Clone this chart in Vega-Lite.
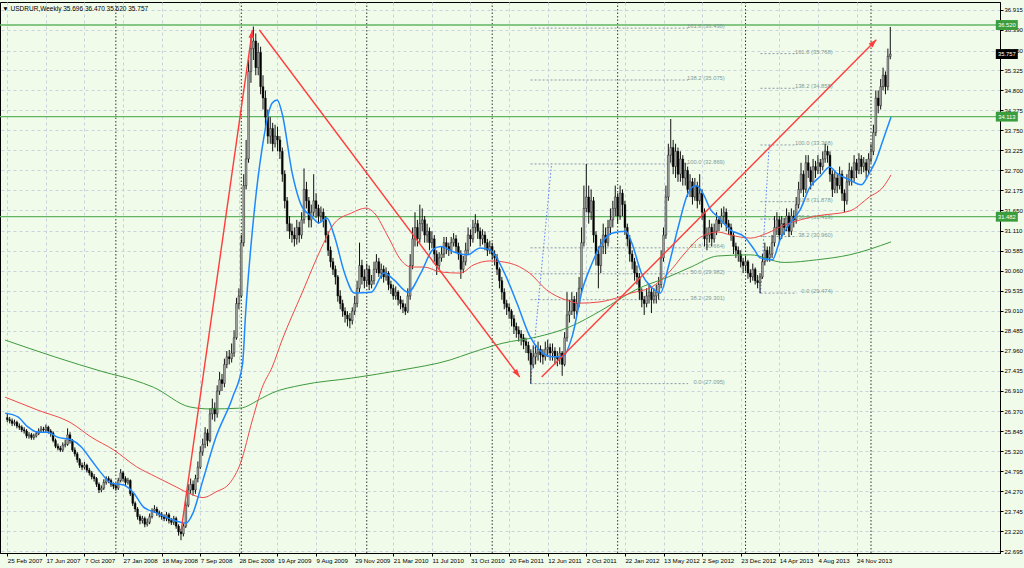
{
"$schema":"https://vega.github.io/schema/vega-lite/v6.json",
"width":1000,"height":551,"autosize":{"type":"none"},
"padding":{"left":0,"top":2,"right":24,"bottom":15},
"background":"#f0fbea",
"config":{"view":{"stroke":"#000","strokeWidth":1,"fill":"#f0fbea"},
"axis":{"labelFont":"Liberation Sans","labelFontSize":5.8,"labelColor":"#000","tickColor":"#000","tickSize":3,"domainColor":"#000","gridColor":"#c9d3de","gridDash":[3,3],"gridWidth":1,"labelOverlap":false,"labelBound":false,"labelFlush":false,"labelSeparation":0},
"title":{"font":"Liberation Sans","fontSize":6.5,"fontWeight":"normal","color":"#000","anchor":"start","offset":-11,"dx":3}},
"title":{"text":"▼ USDRUR,Weekly  35.696 36.470 35.620 35.757"},
"datasets":{
"c":[
{"i":0,"o":26.2,"h":26.3,"l":26.08,"c":26.15},{"i":1,"o":26.15,"h":26.22,"l":26.05,"c":26.12},{"i":2,"o":26.12,"h":26.18,"l":25.98,"c":26.05},{"i":3,"o":26.05,"h":26.15,"l":25.99,"c":26.08},{"i":4,"o":26.08,"h":26.12,"l":25.92,"c":25.98},{"i":5,"o":25.98,"h":26.05,"l":25.88,"c":25.95},{"i":6,"o":25.95,"h":26.0,"l":25.82,"c":25.88},{"i":7,"o":25.88,"h":25.95,"l":25.78,"c":25.85},{"i":8,"o":25.85,"h":25.9,"l":25.66,"c":25.72},{"i":9,"o":25.72,"h":25.82,"l":25.65,"c":25.75},
{"i":10,"o":25.75,"h":25.8,"l":25.62,"c":25.68},{"i":11,"o":25.68,"h":25.78,"l":25.62,"c":25.72},{"i":12,"o":25.72,"h":25.85,"l":25.68,"c":25.78},{"i":13,"o":25.78,"h":25.92,"l":25.74,"c":25.85},{"i":14,"o":25.85,"h":25.98,"l":25.8,"c":25.9},{"i":15,"o":25.9,"h":25.96,"l":25.8,"c":25.88},{"i":16,"o":25.88,"h":26.02,"l":25.82,"c":25.95},{"i":17,"o":25.95,"h":25.99,"l":25.78,"c":25.85},{"i":18,"o":25.85,"h":25.9,"l":25.7,"c":25.8},{"i":19,"o":25.8,"h":25.84,"l":25.55,"c":25.6},
{"i":20,"o":25.6,"h":25.65,"l":25.4,"c":25.45},{"i":21,"o":25.45,"h":25.52,"l":25.34,"c":25.4},{"i":22,"o":25.4,"h":25.46,"l":25.3,"c":25.35},{"i":23,"o":25.35,"h":25.55,"l":25.3,"c":25.48},{"i":24,"o":25.48,"h":25.62,"l":25.42,"c":25.5},{"i":25,"o":25.5,"h":25.92,"l":25.46,"c":25.75},{"i":26,"o":25.75,"h":25.82,"l":25.52,"c":25.6},{"i":27,"o":25.6,"h":25.64,"l":25.3,"c":25.35},{"i":28,"o":25.35,"h":25.42,"l":25.18,"c":25.25},{"i":29,"o":25.25,"h":25.3,"l":25.02,"c":25.1},
{"i":30,"o":25.1,"h":25.14,"l":24.88,"c":24.95},{"i":31,"o":24.95,"h":25.02,"l":24.82,"c":24.9},{"i":32,"o":24.9,"h":25.04,"l":24.84,"c":24.95},{"i":33,"o":24.95,"h":24.99,"l":24.76,"c":24.82},{"i":34,"o":24.82,"h":24.88,"l":24.68,"c":24.75},{"i":35,"o":24.75,"h":24.8,"l":24.58,"c":24.65},{"i":36,"o":24.65,"h":24.72,"l":24.52,"c":24.6},{"i":37,"o":24.6,"h":24.64,"l":24.38,"c":24.45},{"i":38,"o":24.45,"h":24.5,"l":24.22,"c":24.3},{"i":39,"o":24.3,"h":24.42,"l":24.24,"c":24.35},
{"i":40,"o":24.35,"h":24.58,"l":24.3,"c":24.5},{"i":41,"o":24.5,"h":24.66,"l":24.44,"c":24.6},{"i":42,"o":24.6,"h":24.66,"l":24.48,"c":24.55},{"i":43,"o":24.55,"h":24.6,"l":24.38,"c":24.45},{"i":44,"o":24.45,"h":24.5,"l":24.32,"c":24.4},{"i":45,"o":24.4,"h":24.46,"l":24.28,"c":24.35},{"i":46,"o":24.35,"h":24.62,"l":24.3,"c":24.55},{"i":47,"o":24.55,"h":24.85,"l":24.5,"c":24.75},{"i":48,"o":24.75,"h":24.8,"l":24.52,"c":24.6},{"i":49,"o":24.6,"h":24.66,"l":24.42,"c":24.5},
{"i":50,"o":24.5,"h":24.62,"l":24.44,"c":24.55},{"i":51,"o":24.55,"h":24.58,"l":24.14,"c":24.2},{"i":52,"o":24.2,"h":24.25,"l":23.88,"c":23.95},{"i":53,"o":23.95,"h":24.0,"l":23.72,"c":23.8},{"i":54,"o":23.8,"h":23.85,"l":23.52,"c":23.6},{"i":55,"o":23.6,"h":23.66,"l":23.4,"c":23.5},{"i":56,"o":23.5,"h":23.62,"l":23.42,"c":23.55},{"i":57,"o":23.55,"h":23.6,"l":23.32,"c":23.4},{"i":58,"o":23.4,"h":23.55,"l":23.34,"c":23.45},{"i":59,"o":23.45,"h":23.68,"l":23.4,"c":23.6},
{"i":60,"o":23.6,"h":23.82,"l":23.55,"c":23.75},{"i":61,"o":23.75,"h":23.9,"l":23.7,"c":23.8},{"i":62,"o":23.8,"h":23.86,"l":23.62,"c":23.7},{"i":63,"o":23.7,"h":23.76,"l":23.58,"c":23.65},{"i":64,"o":23.65,"h":23.72,"l":23.52,"c":23.6},{"i":65,"o":23.6,"h":23.66,"l":23.48,"c":23.55},{"i":66,"o":23.55,"h":23.72,"l":23.48,"c":23.65},{"i":67,"o":23.65,"h":23.7,"l":23.42,"c":23.5},{"i":68,"o":23.5,"h":23.56,"l":23.38,"c":23.45},{"i":69,"o":23.45,"h":23.62,"l":23.38,"c":23.55},
{"i":70,"o":23.55,"h":23.6,"l":23.28,"c":23.35},{"i":71,"o":23.35,"h":23.4,"l":23.1,"c":23.2},{"i":72,"o":23.2,"h":23.28,"l":22.98,"c":23.15},{"i":73,"o":23.15,"h":23.42,"l":23.08,"c":23.35},{"i":74,"o":23.35,"h":24.0,"l":23.3,"c":23.9},{"i":75,"o":23.9,"h":24.45,"l":23.85,"c":24.3},{"i":76,"o":24.3,"h":24.6,"l":24.2,"c":24.45},{"i":77,"o":24.45,"h":24.55,"l":24.15,"c":24.3},{"i":78,"o":24.3,"h":24.7,"l":24.2,"c":24.6},{"i":79,"o":24.6,"h":25.05,"l":24.5,"c":24.9},
{"i":80,"o":24.9,"h":25.45,"l":24.85,"c":25.3},{"i":81,"o":25.3,"h":25.65,"l":25.2,"c":25.5},{"i":82,"o":25.5,"h":25.95,"l":25.4,"c":25.8},{"i":83,"o":25.8,"h":25.9,"l":25.45,"c":25.6},{"i":84,"o":25.6,"h":26.45,"l":25.55,"c":26.3},{"i":85,"o":26.3,"h":26.7,"l":26.15,"c":26.45},{"i":86,"o":26.45,"h":26.6,"l":26.1,"c":26.3},{"i":87,"o":26.3,"h":27.05,"l":26.2,"c":26.9},{"i":88,"o":26.9,"h":27.4,"l":26.8,"c":27.2},{"i":89,"o":27.2,"h":27.35,"l":26.9,"c":27.1},
{"i":90,"o":27.1,"h":27.75,"l":27.0,"c":27.6},{"i":91,"o":27.6,"h":27.95,"l":27.5,"c":27.8},{"i":92,"o":27.8,"h":27.98,"l":27.6,"c":27.75},{"i":93,"o":27.75,"h":28.15,"l":27.65,"c":27.9},{"i":94,"o":27.9,"h":28.5,"l":27.8,"c":28.3},{"i":95,"o":28.3,"h":29.35,"l":28.25,"c":29.2},{"i":96,"o":29.2,"h":29.6,"l":29.05,"c":29.4},{"i":97,"o":29.4,"h":31.0,"l":29.35,"c":30.8},{"i":98,"o":30.8,"h":32.6,"l":30.7,"c":32.3},{"i":99,"o":32.3,"h":33.5,"l":32.2,"c":33.0},
{"i":100,"o":33.0,"h":35.6,"l":32.9,"c":35.3},{"i":101,"o":35.3,"h":36.2,"l":35.0,"c":35.9},{"i":102,"o":35.9,"h":36.48,"l":35.6,"c":36.1},{"i":103,"o":36.1,"h":36.3,"l":35.2,"c":35.4},{"i":104,"o":35.4,"h":36.05,"l":35.2,"c":35.8},{"i":105,"o":35.8,"h":35.95,"l":34.7,"c":34.9},{"i":106,"o":34.9,"h":35.2,"l":34.3,"c":34.6},{"i":107,"o":34.6,"h":34.8,"l":33.8,"c":34.1},{"i":108,"o":34.1,"h":34.3,"l":33.4,"c":33.6},{"i":109,"o":33.6,"h":34.1,"l":33.4,"c":33.8},
{"i":110,"o":33.8,"h":33.95,"l":33.2,"c":33.4},{"i":111,"o":33.4,"h":33.9,"l":33.3,"c":33.6},{"i":112,"o":33.6,"h":33.85,"l":33.2,"c":33.5},{"i":113,"o":33.5,"h":33.6,"l":33.0,"c":33.2},{"i":114,"o":33.2,"h":33.3,"l":32.4,"c":32.6},{"i":115,"o":32.6,"h":32.7,"l":31.7,"c":31.9},{"i":116,"o":31.9,"h":32.0,"l":31.1,"c":31.3},{"i":117,"o":31.3,"h":31.5,"l":30.9,"c":31.1},{"i":118,"o":31.1,"h":31.3,"l":30.8,"c":31.0},{"i":119,"o":31.0,"h":31.2,"l":30.7,"c":30.9},
{"i":120,"o":30.9,"h":31.4,"l":30.75,"c":31.2},{"i":121,"o":31.2,"h":31.35,"l":30.8,"c":31.0},{"i":122,"o":31.0,"h":31.6,"l":30.9,"c":31.4},{"i":123,"o":31.4,"h":32.75,"l":31.3,"c":32.2},{"i":124,"o":32.2,"h":32.4,"l":31.7,"c":31.9},{"i":125,"o":31.9,"h":32.0,"l":31.2,"c":31.4},{"i":126,"o":31.4,"h":31.8,"l":31.2,"c":31.6},{"i":127,"o":31.6,"h":32.6,"l":31.5,"c":31.9},{"i":128,"o":31.9,"h":32.1,"l":31.45,"c":31.7},{"i":129,"o":31.7,"h":31.8,"l":31.3,"c":31.5},
{"i":130,"o":31.5,"h":31.75,"l":31.35,"c":31.6},{"i":131,"o":31.6,"h":31.7,"l":31.2,"c":31.4},{"i":132,"o":31.4,"h":31.5,"l":30.8,"c":31.0},{"i":133,"o":31.0,"h":31.1,"l":30.45,"c":30.6},{"i":134,"o":30.6,"h":30.7,"l":30.15,"c":30.3},{"i":135,"o":30.3,"h":30.4,"l":29.95,"c":30.1},{"i":136,"o":30.1,"h":30.2,"l":29.7,"c":29.9},{"i":137,"o":29.9,"h":29.95,"l":29.25,"c":29.4},{"i":138,"o":29.4,"h":29.55,"l":29.05,"c":29.2},{"i":139,"o":29.2,"h":29.3,"l":28.85,"c":29.0},
{"i":140,"o":29.0,"h":29.1,"l":28.7,"c":28.9},{"i":141,"o":28.9,"h":29.0,"l":28.6,"c":28.8},{"i":142,"o":28.8,"h":28.95,"l":28.55,"c":28.75},{"i":143,"o":28.75,"h":29.1,"l":28.65,"c":29.0},{"i":144,"o":29.0,"h":29.4,"l":28.9,"c":29.2},{"i":145,"o":29.2,"h":29.8,"l":29.1,"c":29.6},{"i":146,"o":29.6,"h":30.8,"l":29.5,"c":30.2},{"i":147,"o":30.2,"h":30.35,"l":29.7,"c":29.9},{"i":148,"o":29.9,"h":30.1,"l":29.6,"c":29.8},{"i":149,"o":29.8,"h":30.25,"l":29.65,"c":30.1},
{"i":150,"o":30.1,"h":30.2,"l":29.55,"c":29.7},{"i":151,"o":29.7,"h":29.95,"l":29.6,"c":29.8},{"i":152,"o":29.8,"h":30.3,"l":29.7,"c":30.1},{"i":153,"o":30.1,"h":30.5,"l":30.0,"c":30.3},{"i":154,"o":30.3,"h":30.4,"l":29.9,"c":30.0},{"i":155,"o":30.0,"h":30.25,"l":29.85,"c":30.1},{"i":156,"o":30.1,"h":30.2,"l":29.75,"c":29.9},{"i":157,"o":29.9,"h":30.15,"l":29.8,"c":30.0},{"i":158,"o":30.0,"h":30.05,"l":29.55,"c":29.7},{"i":159,"o":29.7,"h":29.8,"l":29.45,"c":29.6},
{"i":160,"o":29.6,"h":29.7,"l":29.3,"c":29.4},{"i":161,"o":29.4,"h":29.65,"l":29.3,"c":29.5},{"i":162,"o":29.5,"h":29.55,"l":29.15,"c":29.3},{"i":163,"o":29.3,"h":29.4,"l":29.05,"c":29.2},{"i":164,"o":29.2,"h":29.3,"l":28.95,"c":29.1},{"i":165,"o":29.1,"h":29.2,"l":28.9,"c":29.0},{"i":166,"o":29.0,"h":29.6,"l":28.95,"c":29.4},{"i":167,"o":29.4,"h":30.5,"l":29.3,"c":30.2},{"i":168,"o":30.2,"h":31.2,"l":30.1,"c":30.9},{"i":169,"o":30.9,"h":31.6,"l":30.7,"c":31.2},
{"i":170,"o":31.2,"h":31.4,"l":30.7,"c":30.9},{"i":171,"o":30.9,"h":31.8,"l":30.8,"c":31.3},{"i":172,"o":31.3,"h":31.7,"l":31.1,"c":31.4},{"i":173,"o":31.4,"h":31.5,"l":30.8,"c":31.0},{"i":174,"o":31.0,"h":31.3,"l":30.8,"c":31.1},{"i":175,"o":31.1,"h":31.2,"l":30.6,"c":30.8},{"i":176,"o":30.8,"h":31.1,"l":30.65,"c":30.9},{"i":177,"o":30.9,"h":31.0,"l":30.3,"c":30.5},{"i":178,"o":30.5,"h":30.6,"l":29.95,"c":30.2},{"i":179,"o":30.2,"h":30.55,"l":30.1,"c":30.4},
{"i":180,"o":30.4,"h":30.7,"l":30.3,"c":30.5},{"i":181,"o":30.5,"h":30.95,"l":30.4,"c":30.8},{"i":182,"o":30.8,"h":30.95,"l":30.5,"c":30.7},{"i":183,"o":30.7,"h":30.8,"l":30.45,"c":30.6},{"i":184,"o":30.6,"h":30.95,"l":30.5,"c":30.8},{"i":185,"o":30.8,"h":31.05,"l":30.7,"c":30.9},{"i":186,"o":30.9,"h":31.0,"l":30.55,"c":30.7},{"i":187,"o":30.7,"h":30.8,"l":30.35,"c":30.5},{"i":188,"o":30.5,"h":30.6,"l":29.85,"c":30.1},{"i":189,"o":30.1,"h":30.45,"l":30.0,"c":30.3},
{"i":190,"o":30.3,"h":30.8,"l":30.2,"c":30.6},{"i":191,"o":30.6,"h":31.2,"l":30.5,"c":31.0},{"i":192,"o":31.0,"h":31.15,"l":30.7,"c":30.9},{"i":193,"o":30.9,"h":31.4,"l":30.8,"c":31.2},{"i":194,"o":31.2,"h":31.55,"l":31.05,"c":31.3},{"i":195,"o":31.3,"h":31.4,"l":30.9,"c":31.1},{"i":196,"o":31.1,"h":31.2,"l":30.7,"c":30.9},{"i":197,"o":30.9,"h":31.15,"l":30.75,"c":31.0},{"i":198,"o":31.0,"h":31.1,"l":30.6,"c":30.8},{"i":199,"o":30.8,"h":30.9,"l":30.45,"c":30.6},
{"i":200,"o":30.6,"h":30.85,"l":30.5,"c":30.7},{"i":201,"o":30.7,"h":30.8,"l":30.35,"c":30.5},{"i":202,"o":30.5,"h":30.6,"l":30.2,"c":30.4},{"i":203,"o":30.4,"h":30.5,"l":29.95,"c":30.1},{"i":204,"o":30.1,"h":30.15,"l":29.6,"c":29.8},{"i":205,"o":29.8,"h":29.9,"l":29.3,"c":29.5},{"i":206,"o":29.5,"h":29.6,"l":29.05,"c":29.2},{"i":207,"o":29.2,"h":29.3,"l":28.9,"c":29.1},{"i":208,"o":29.1,"h":29.2,"l":28.8,"c":29.0},{"i":209,"o":29.0,"h":29.05,"l":28.6,"c":28.8},
{"i":210,"o":28.8,"h":28.9,"l":28.4,"c":28.6},{"i":211,"o":28.6,"h":28.7,"l":28.3,"c":28.5},{"i":212,"o":28.5,"h":28.6,"l":28.2,"c":28.4},{"i":213,"o":28.4,"h":28.5,"l":28.1,"c":28.3},{"i":214,"o":28.3,"h":28.4,"l":28.0,"c":28.2},{"i":215,"o":28.2,"h":28.3,"l":27.9,"c":28.1},{"i":216,"o":28.1,"h":28.2,"l":27.7,"c":27.9},{"i":217,"o":27.9,"h":28.0,"l":27.1,"c":27.6},{"i":218,"o":27.6,"h":28.1,"l":27.5,"c":27.8},{"i":219,"o":27.8,"h":28.1,"l":27.6,"c":27.9},
{"i":220,"o":27.9,"h":28.2,"l":27.7,"c":28.0},{"i":221,"o":28.0,"h":28.1,"l":27.65,"c":27.85},{"i":222,"o":27.85,"h":28.0,"l":27.6,"c":27.8},{"i":223,"o":27.8,"h":28.2,"l":27.7,"c":28.0},{"i":224,"o":28.0,"h":28.25,"l":27.8,"c":28.05},{"i":225,"o":28.05,"h":28.15,"l":27.7,"c":27.9},{"i":226,"o":27.9,"h":28.15,"l":27.7,"c":27.95},{"i":227,"o":27.95,"h":28.05,"l":27.6,"c":27.8},{"i":228,"o":27.8,"h":27.95,"l":27.55,"c":27.75},{"i":229,"o":27.75,"h":28.05,"l":27.6,"c":27.9},
{"i":230,"o":27.9,"h":27.95,"l":27.3,"c":27.6},{"i":231,"o":27.6,"h":28.45,"l":27.55,"c":28.3},{"i":232,"o":28.3,"h":29.5,"l":28.2,"c":28.9},{"i":233,"o":28.9,"h":29.3,"l":28.7,"c":29.0},{"i":234,"o":29.0,"h":29.5,"l":28.9,"c":29.3},{"i":235,"o":29.3,"h":29.4,"l":28.8,"c":29.0},{"i":236,"o":29.0,"h":29.5,"l":28.9,"c":29.2},{"i":237,"o":29.2,"h":29.9,"l":29.1,"c":29.6},{"i":238,"o":29.6,"h":31.2,"l":29.5,"c":30.8},{"i":239,"o":30.8,"h":32.3,"l":30.7,"c":31.7},
{"i":240,"o":31.7,"h":32.87,"l":31.6,"c":32.0},{"i":241,"o":32.0,"h":32.3,"l":31.3,"c":31.6},{"i":242,"o":31.6,"h":32.2,"l":31.4,"c":31.9},{"i":243,"o":31.9,"h":32.0,"l":30.8,"c":31.0},{"i":244,"o":31.0,"h":31.1,"l":30.2,"c":30.5},{"i":245,"o":30.5,"h":30.7,"l":29.6,"c":30.2},{"i":246,"o":30.2,"h":30.9,"l":30.0,"c":30.7},{"i":247,"o":30.7,"h":31.3,"l":30.5,"c":31.0},{"i":248,"o":31.0,"h":31.2,"l":30.5,"c":30.8},{"i":249,"o":30.8,"h":31.4,"l":30.7,"c":31.2},
{"i":250,"o":31.2,"h":31.7,"l":31.0,"c":31.4},{"i":251,"o":31.4,"h":31.9,"l":31.2,"c":31.7},{"i":252,"o":31.7,"h":32.3,"l":31.5,"c":32.0},{"i":253,"o":32.0,"h":32.1,"l":31.3,"c":31.5},{"i":254,"o":31.5,"h":32.3,"l":31.4,"c":32.1},{"i":255,"o":32.1,"h":32.2,"l":31.5,"c":31.8},{"i":256,"o":31.8,"h":31.9,"l":31.0,"c":31.2},{"i":257,"o":31.2,"h":31.3,"l":30.7,"c":30.9},{"i":258,"o":30.9,"h":31.0,"l":30.3,"c":30.5},{"i":259,"o":30.5,"h":30.6,"l":30.1,"c":30.3},
{"i":260,"o":30.3,"h":30.4,"l":29.8,"c":30.0},{"i":261,"o":30.0,"h":30.2,"l":29.7,"c":29.9},{"i":262,"o":29.9,"h":30.0,"l":29.3,"c":29.5},{"i":263,"o":29.5,"h":29.6,"l":29.1,"c":29.3},{"i":264,"o":29.3,"h":29.4,"l":28.9,"c":29.2},{"i":265,"o":29.2,"h":29.6,"l":29.1,"c":29.4},{"i":266,"o":29.4,"h":29.7,"l":29.2,"c":29.5},{"i":267,"o":29.5,"h":29.6,"l":28.95,"c":29.3},{"i":268,"o":29.3,"h":29.6,"l":29.2,"c":29.4},{"i":269,"o":29.4,"h":29.7,"l":29.2,"c":29.5},
{"i":270,"o":29.5,"h":29.9,"l":29.3,"c":29.7},{"i":271,"o":29.7,"h":30.6,"l":29.6,"c":30.4},{"i":272,"o":30.4,"h":31.2,"l":30.3,"c":31.0},{"i":273,"o":31.0,"h":32.3,"l":30.9,"c":32.0},{"i":274,"o":32.0,"h":33.4,"l":31.9,"c":33.1},{"i":275,"o":33.1,"h":34.05,"l":32.9,"c":33.3},{"i":276,"o":33.3,"h":33.5,"l":32.6,"c":32.8},{"i":277,"o":32.8,"h":33.4,"l":32.5,"c":33.2},{"i":278,"o":33.2,"h":33.3,"l":32.4,"c":32.6},{"i":279,"o":32.6,"h":33.2,"l":32.4,"c":33.0},
{"i":280,"o":33.0,"h":33.1,"l":32.3,"c":32.5},{"i":281,"o":32.5,"h":32.9,"l":32.3,"c":32.7},{"i":282,"o":32.7,"h":32.8,"l":32.0,"c":32.2},{"i":283,"o":32.2,"h":32.6,"l":32.0,"c":32.4},{"i":284,"o":32.4,"h":32.5,"l":31.8,"c":32.0},{"i":285,"o":32.0,"h":32.5,"l":31.9,"c":32.3},{"i":286,"o":32.3,"h":32.4,"l":31.7,"c":31.9},{"i":287,"o":31.9,"h":32.6,"l":31.8,"c":32.1},{"i":288,"o":32.1,"h":32.2,"l":31.4,"c":31.6},{"i":289,"o":31.6,"h":31.7,"l":30.7,"c":30.9},
{"i":290,"o":30.9,"h":31.2,"l":30.6,"c":31.0},{"i":291,"o":31.0,"h":31.4,"l":30.8,"c":31.2},{"i":292,"o":31.2,"h":31.3,"l":30.7,"c":30.9},{"i":293,"o":30.9,"h":31.3,"l":30.8,"c":31.1},{"i":294,"o":31.1,"h":31.6,"l":31.0,"c":31.4},{"i":295,"o":31.4,"h":31.5,"l":31.1,"c":31.3},{"i":296,"o":31.3,"h":31.7,"l":31.2,"c":31.5},{"i":297,"o":31.5,"h":31.75,"l":31.3,"c":31.6},{"i":298,"o":31.6,"h":31.7,"l":31.1,"c":31.3},{"i":299,"o":31.3,"h":31.4,"l":31.0,"c":31.2},
{"i":300,"o":31.2,"h":31.3,"l":30.85,"c":31.0},{"i":301,"o":31.0,"h":31.1,"l":30.5,"c":30.7},{"i":302,"o":30.7,"h":30.8,"l":30.4,"c":30.6},{"i":303,"o":30.6,"h":30.7,"l":30.3,"c":30.5},{"i":304,"o":30.5,"h":30.6,"l":30.15,"c":30.3},{"i":305,"o":30.3,"h":30.4,"l":30.0,"c":30.2},{"i":306,"o":30.2,"h":30.45,"l":30.05,"c":30.3},{"i":307,"o":30.3,"h":30.35,"l":29.85,"c":30.0},{"i":308,"o":30.0,"h":30.1,"l":29.75,"c":29.9},{"i":309,"o":29.9,"h":30.25,"l":29.8,"c":30.1},
{"i":310,"o":30.1,"h":30.15,"l":29.7,"c":29.8},{"i":311,"o":29.8,"h":29.95,"l":29.6,"c":29.75},{"i":312,"o":29.75,"h":30.0,"l":29.47,"c":29.9},{"i":313,"o":29.9,"h":30.5,"l":29.85,"c":30.3},{"i":314,"o":30.3,"h":30.8,"l":30.2,"c":30.6},{"i":315,"o":30.6,"h":30.7,"l":30.3,"c":30.4},{"i":316,"o":30.4,"h":30.7,"l":30.3,"c":30.5},{"i":317,"o":30.5,"h":31.0,"l":30.4,"c":30.8},{"i":318,"o":30.8,"h":31.5,"l":30.7,"c":31.2},{"i":319,"o":31.2,"h":31.6,"l":31.0,"c":31.4},
{"i":320,"o":31.4,"h":31.5,"l":30.8,"c":31.0},{"i":321,"o":31.0,"h":31.5,"l":30.9,"c":31.3},{"i":322,"o":31.3,"h":31.45,"l":31.0,"c":31.2},{"i":323,"o":31.2,"h":31.7,"l":31.1,"c":31.5},{"i":324,"o":31.5,"h":31.6,"l":30.95,"c":31.1},{"i":325,"o":31.1,"h":31.7,"l":31.0,"c":31.5},{"i":326,"o":31.5,"h":31.65,"l":31.2,"c":31.4},{"i":327,"o":31.4,"h":32.0,"l":31.3,"c":31.8},{"i":328,"o":31.8,"h":32.4,"l":31.7,"c":32.2},{"i":329,"o":32.2,"h":32.9,"l":32.1,"c":32.6},
{"i":330,"o":32.6,"h":32.7,"l":32.0,"c":32.2},{"i":331,"o":32.2,"h":33.1,"l":32.1,"c":32.9},{"i":332,"o":32.9,"h":33.1,"l":32.5,"c":32.7},{"i":333,"o":32.7,"h":32.8,"l":32.2,"c":32.4},{"i":334,"o":32.4,"h":33.0,"l":32.3,"c":32.8},{"i":335,"o":32.8,"h":32.95,"l":32.5,"c":32.7},{"i":336,"o":32.7,"h":33.1,"l":32.6,"c":32.9},{"i":337,"o":32.9,"h":33.0,"l":32.6,"c":32.8},{"i":338,"o":32.8,"h":33.2,"l":32.7,"c":33.0},{"i":339,"o":33.0,"h":33.4,"l":32.9,"c":33.2},
{"i":340,"o":33.2,"h":33.35,"l":32.9,"c":33.1},{"i":341,"o":33.1,"h":33.2,"l":32.4,"c":32.6},{"i":342,"o":32.6,"h":32.7,"l":32.0,"c":32.2},{"i":343,"o":32.2,"h":32.7,"l":32.1,"c":32.5},{"i":344,"o":32.5,"h":32.6,"l":32.1,"c":32.3},{"i":345,"o":32.3,"h":32.8,"l":32.2,"c":32.6},{"i":346,"o":32.6,"h":32.7,"l":31.9,"c":32.1},{"i":347,"o":32.1,"h":32.2,"l":31.6,"c":31.9},{"i":348,"o":31.9,"h":32.6,"l":31.8,"c":32.4},{"i":349,"o":32.4,"h":32.9,"l":32.3,"c":32.7},
{"i":350,"o":32.7,"h":32.8,"l":32.3,"c":32.5},{"i":351,"o":32.5,"h":33.1,"l":32.4,"c":32.9},{"i":352,"o":32.9,"h":33.0,"l":32.5,"c":32.7},{"i":353,"o":32.7,"h":33.15,"l":32.6,"c":33.0},{"i":354,"o":33.0,"h":33.1,"l":32.6,"c":32.8},{"i":355,"o":32.8,"h":33.05,"l":32.65,"c":32.9},{"i":356,"o":32.9,"h":33.0,"l":32.5,"c":32.7},{"i":357,"o":32.7,"h":33.15,"l":32.6,"c":33.0},{"i":358,"o":33.0,"h":33.4,"l":32.9,"c":33.2},{"i":359,"o":33.2,"h":33.9,"l":33.1,"c":33.7},
{"i":360,"o":33.7,"h":34.8,"l":33.6,"c":34.6},{"i":361,"o":34.6,"h":34.8,"l":34.2,"c":34.4},{"i":362,"o":34.4,"h":35.1,"l":34.3,"c":34.9},{"i":363,"o":34.9,"h":35.4,"l":34.8,"c":35.2},{"i":364,"o":35.2,"h":35.3,"l":34.7,"c":34.9},{"i":365,"o":34.9,"h":35.9,"l":34.8,"c":35.696},{"i":366,"o":35.696,"h":36.47,"l":35.62,"c":35.757}
],
"blue":[{"i":-0.9,"v":26.32},{"i":4.4,"v":26.22},{"i":8.5,"v":25.96},{"i":12.6,"v":25.82},{"i":16.7,"v":25.82},{"i":20.8,"v":25.69},{"i":26.5,"v":25.62},{"i":30.7,"v":25.43},{"i":34.8,"v":25.09},{"i":38.9,"v":24.75},{"i":43.0,"v":24.48},{"i":48.3,"v":24.43},{"i":52.4,"v":24.22},{"i":56.5,"v":23.85},{"i":61.8,"v":23.7},{"i":68.8,"v":23.51},{"i":74.1,"v":23.43},{"i":77.0,"v":23.7},{"i":81.1,"v":24.56},{"i":86.5,"v":25.69},{"i":93.4,"v":26.74},{"i":97.5,"v":27.6},{"i":98.8,"v":28.95},{"i":101.6,"v":31.13},{"i":105.7,"v":33.31},{"i":109.8,"v":34.47},{"i":111.9,"v":34.55},{"i":113.9,"v":34.2},{"i":118.1,"v":32.63},{"i":122.2,"v":31.74},{"i":126.3,"v":31.48},{"i":129.1,"v":31.32},{"i":132.4,"v":31.45},{"i":135.7,"v":30.95},{"i":139.8,"v":30.0},{"i":143.9,"v":29.48},{"i":150.9,"v":29.5},{"i":156.2,"v":30.0},{"i":160.3,"v":29.82},{"i":166.1,"v":29.5},{"i":171.4,"v":30.0},{"i":176.3,"v":30.61},{"i":179.6,"v":30.7},{"i":184.9,"v":30.56},{"i":190.7,"v":30.48},{"i":196.0,"v":30.66},{"i":200.1,"v":30.61},{"i":205.5,"v":30.08},{"i":211.2,"v":29.22},{"i":216.5,"v":28.35},{"i":220.6,"v":27.98},{"i":226.0,"v":27.8},{"i":230.1,"v":27.8},{"i":234.2,"v":28.35},{"i":238.3,"v":29.55},{"i":242.4,"v":30.26},{"i":246.5,"v":30.8},{"i":250.6,"v":31.05},{"i":256.3,"v":31.1},{"i":258.8,"v":30.8},{"i":262.9,"v":29.99},{"i":267.0,"v":29.63},{"i":270.7,"v":29.48},{"i":274.0,"v":30.16},{"i":278.1,"v":31.21},{"i":282.2,"v":32.1},{"i":285.5,"v":32.3},{"i":288.3,"v":32.1},{"i":291.6,"v":31.66},{"i":294.5,"v":31.48},{"i":299.8,"v":31.13},{"i":305.6,"v":30.95},{"i":309.7,"v":30.61},{"i":312.1,"v":30.4},{"i":317.1,"v":30.35},{"i":320.3,"v":30.87},{"i":324.5,"v":31.32},{"i":328.6,"v":31.66},{"i":332.7,"v":32.26},{"i":336.8,"v":32.53},{"i":340.9,"v":32.79},{"i":343.7,"v":32.63},{"i":349.1,"v":32.45},{"i":354.0,"v":32.32},{"i":357.3,"v":32.63},{"i":360.1,"v":32.97},{"i":363.0,"v":33.5},{"i":366.3,"v":34.1}],
"red":[{"i":-0.9,"v":26.74},{"i":12.6,"v":26.4},{"i":26.5,"v":26.06},{"i":34.8,"v":25.69},{"i":44.2,"v":25.35},{"i":53.6,"v":24.91},{"i":61.8,"v":24.64},{"i":70.0,"v":24.38},{"i":75.8,"v":24.2},{"i":81.1,"v":24.1},{"i":86.5,"v":24.25},{"i":92.2,"v":24.48},{"i":96.7,"v":25.01},{"i":101.6,"v":26.14},{"i":105.7,"v":27.0},{"i":109.8,"v":27.53},{"i":113.9,"v":28.24},{"i":122.2,"v":29.48},{"i":130.4,"v":30.69},{"i":135.7,"v":31.32},{"i":142.7,"v":31.58},{"i":148.8,"v":31.71},{"i":152.1,"v":31.58},{"i":157.9,"v":30.95},{"i":163.2,"v":30.34},{"i":167.3,"v":30.16},{"i":172.6,"v":30.16},{"i":179.6,"v":30.03},{"i":187.8,"v":30.0},{"i":193.1,"v":30.21},{"i":200.1,"v":30.32},{"i":208.3,"v":30.26},{"i":216.5,"v":30.0},{"i":223.5,"v":29.56},{"i":231.7,"v":29.29},{"i":237.0,"v":29.21},{"i":245.3,"v":29.24},{"i":252.2,"v":29.34},{"i":258.8,"v":29.48},{"i":267.0,"v":29.63},{"i":274.0,"v":30.0},{"i":280.9,"v":30.53},{"i":287.5,"v":30.95},{"i":294.5,"v":31.08},{"i":299.8,"v":31.0},{"i":308.0,"v":30.92},{"i":315.0,"v":31.05},{"i":322.0,"v":31.26},{"i":335.5,"v":31.5},{"i":349.1,"v":31.63},{"i":357.3,"v":32.0},{"i":363.0,"v":32.26},{"i":366.3,"v":32.58}],
"green":[{"i":-0.9,"v":28.24},{"i":19.6,"v":27.8},{"i":40.1,"v":27.4},{"i":52.4,"v":27.19},{"i":60.6,"v":27.0},{"i":75.8,"v":26.48},{"i":84.0,"v":26.43},{"i":96.3,"v":26.45},{"i":105.7,"v":26.72},{"i":109.8,"v":26.85},{"i":122.2,"v":27.06},{"i":142.7,"v":27.24},{"i":163.2,"v":27.45},{"i":183.7,"v":27.72},{"i":192.0,"v":27.9},{"i":205.5,"v":28.16},{"i":219.4,"v":28.32},{"i":232.9,"v":28.58},{"i":246.5,"v":29.03},{"i":260.4,"v":29.56},{"i":274.0,"v":29.9},{"i":283.4,"v":30.16},{"i":294.5,"v":30.45},{"i":308.0,"v":30.48},{"i":322.0,"v":30.28},{"i":335.5,"v":30.35},{"i":349.1,"v":30.48},{"i":366.3,"v":30.82}],
"sep":[{"i":45},{"i":97},{"i":149},{"i":201},{"i":253},{"i":306},{"i":358}],
"hl":[{"v":36.52},{"v":34.113},{"v":31.482}],
"fib":[
{"g":1,"i1":216.9,"i2":282.2,"il":297.4,"v":36.438,"lab":"161.8 (36.438)"},{"g":1,"i1":216.9,"i2":282.2,"il":297.4,"v":35.075,"lab":"138.2 (35.075)"},{"g":1,"i1":216.9,"i2":282.2,"il":297.4,"v":32.869,"lab":"100.0 (32.869)"},{"g":1,"i1":216.9,"i2":282.2,"il":297.4,"v":30.664,"lab":"61.8 (30.664)"},{"g":1,"i1":216.9,"i2":282.2,"il":297.4,"v":29.982,"lab":"50.0 (29.982)"},{"g":1,"i1":216.9,"i2":282.2,"il":297.4,"v":29.301,"lab":"38.2 (29.301)"},{"g":1,"i1":216.9,"i2":282.2,"il":297.4,"v":27.095,"lab":"0.0 (27.095)"},
{"g":2,"i1":312.2,"i2":327.3,"il":342.1,"v":35.768,"lab":"161.8 (35.768)"},{"g":2,"i1":312.2,"i2":327.3,"il":342.1,"v":34.858,"lab":"138.2 (34.858)"},{"g":2,"i1":312.2,"i2":327.3,"il":342.1,"v":33.368,"lab":"100.0 (33.368)"},{"g":2,"i1":312.2,"i2":327.3,"il":342.1,"v":31.878,"lab":"61.8 (31.878)"},{"g":2,"i1":312.2,"i2":327.3,"il":342.1,"v":31.419,"lab":"50.0 (31.419)"},{"g":2,"i1":312.2,"i2":327.3,"il":342.1,"v":30.96,"lab":"38.2 (30.960)"},{"g":2,"i1":312.2,"i2":327.3,"il":342.1,"v":29.474,"lab":"0.0 (29.474)"}],
"fibtr":[{"i1":216.9,"v1":27.095,"i2":225.6,"v2":32.869},{"i1":312.2,"v1":29.474,"i2":315.8,"v2":33.368}],
"arr":[{"k":1,"i1":72.1,"v1":23.25,"i2":101.6,"v2":36.39},{"k":2,"i1":104.5,"v1":36.39,"i2":212.4,"v2":27.27},{"k":3,"i1":221.5,"v1":27.27,"i2":360.2,"v2":36.13}],
"tags":[{"v":36.52,"t":"36.520","kind":"level"},{"v":34.113,"t":"34.113","kind":"level"},{"v":31.482,"t":"31.482","kind":"level"},{"v":35.757,"t":"35.757","kind":"price"}]
},
"layer":[
{"data":{"name":"sep"},"mark":{"type":"rule","color":"#333","strokeWidth":1,"strokeDash":[1.5,2]},
 "encoding":{"x":{"field":"i","type":"quantitative","title":null,"scale":{"domain":[-0.944,409.4],"nice":false,"zero":false},
  "axis":{"title":null,"orient":"bottom","values":[0,16,32,48,64,80,96,112,128,144,160,176,192,208,224,240,256,272,288,304,320,336,352],"tickCount":60,
  "labelExpr":"['25 Feb 2007','17 Jun 2007','7 Oct 2007','27 Jan 2008','18 May 2008','7 Sep 2008','28 Dec 2008','19 Apr 2009','9 Aug 2009','29 Nov 2009','21 Mar 2010','11 Jul 2010','31 Oct 2010','20 Feb 2011','12 Jun 2011','2 Oct 2011','22 Jan 2012','13 May 2012','2 Sep 2012','23 Dec 2012','14 Apr 2013','4 Aug 2013','24 Nov 2013'][round(datum.value/16)]",
  "labelAlign":"left","labelBaseline":"top","labelPadding":1,"grid":true,"labelOverlap":false,"labelFontSize":6.2}}}},
{"data":{"name":"hl"},"mark":{"type":"rule","color":"#62b562","strokeWidth":1.3},
 "encoding":{"y":{"field":"v","type":"quantitative","title":null,"scale":{"domain":[22.644,37.125],"nice":false,"zero":false},
  "axis":{"title":null,"orient":"right","values":[36.915,36.39,35.85,35.325,34.8,34.275,33.75,33.225,32.7,32.175,31.65,31.11,30.585,30.06,29.535,29.01,28.485,27.96,27.435,26.91,26.37,25.845,25.32,24.795,24.27,23.745,23.22,22.695],"tickCount":60,"format":".3f","labelPadding":1,"grid":true,"labelOverlap":false,"labelFontSize":6}}}},
{"data":{"name":"fib"},"mark":{"type":"rule","color":"#8a9aa8","strokeWidth":1,"strokeDash":[2,2]},
 "encoding":{"x":{"field":"i1","type":"quantitative","title":null},"x2":{"field":"i2"},
  "y":{"field":"v","type":"quantitative","title":null}}},
{"data":{"name":"fib"},"mark":{"type":"text","color":"#7f9b9b","font":"Liberation Sans","fontSize":5.8,"align":"right","baseline":"alphabetic"},
 "encoding":{"x":{"field":"il","type":"quantitative","title":null},
  "y":{"field":"v","type":"quantitative","title":null},"text":{"field":"lab"}}},
{"data":{"name":"fibtr"},"mark":{"type":"rule","color":"#5a7dff","strokeWidth":1,"strokeDash":[1.5,2]},
 "encoding":{"x":{"field":"i1","type":"quantitative","title":null},"x2":{"field":"i2"},
  "y":{"field":"v1","type":"quantitative","title":null},"y2":{"field":"v2"}}},
{"data":{"name":"c"},"mark":{"type":"rule","color":"#111","strokeWidth":1},
 "encoding":{"x":{"field":"i","type":"quantitative","title":null},
  "y":{"field":"l","type":"quantitative","title":null},"y2":{"field":"h"}}},
{"data":{"name":"c"},"mark":{"type":"bar","width":1.8,"stroke":"#000","strokeWidth":0.4},
 "encoding":{"x":{"field":"i","type":"quantitative","title":null},
  "y":{"field":"o","type":"quantitative","title":null},"y2":{"field":"c"},
  "color":{"condition":{"test":"datum.c >= datum.o","value":"#a8a8a8"},"value":"#000000"}}},
{"data":{"name":"green"},"mark":{"type":"line","color":"#3f9a3f","strokeWidth":1,"interpolate":"monotone"},
 "encoding":{"x":{"field":"i","type":"quantitative","title":null},
  "y":{"field":"v","type":"quantitative","title":null}}},
{"data":{"name":"red"},"mark":{"type":"line","color":"#f04848","strokeWidth":1,"interpolate":"monotone"},
 "encoding":{"x":{"field":"i","type":"quantitative","title":null},
  "y":{"field":"v","type":"quantitative","title":null}}},
{"data":{"name":"blue"},"mark":{"type":"line","color":"#1e88ff","strokeWidth":1.5,"interpolate":"monotone"},
 "encoding":{"x":{"field":"i","type":"quantitative","title":null},
  "y":{"field":"v","type":"quantitative","title":null}}},
{"data":{"name":"arr"},"mark":{"type":"rule","color":"#ff3c3c","strokeWidth":1.4},
 "encoding":{"x":{"field":"i1","type":"quantitative","title":null},"x2":{"field":"i2"},
  "y":{"field":"v1","type":"quantitative","title":null},"y2":{"field":"v2"}}},
{"data":{"name":"arr"},"transform":[{"filter":"datum.k == 1"}],"mark":{"type":"point","shape":"M0,0L-0.7,2L0.7,2Z","filled":true,"color":"#ff3c3c","opacity":1,"size":64,"angle":8.2},
 "encoding":{"x":{"field":"i2","type":"quantitative","title":null},
  "y":{"field":"v2","type":"quantitative","title":null}}},
{"data":{"name":"arr"},"transform":[{"filter":"datum.k == 2"}],"mark":{"type":"point","shape":"M0,0L-0.7,2L0.7,2Z","filled":true,"color":"#ff3c3c","opacity":1,"size":64,"angle":142.8},
 "encoding":{"x":{"field":"i2","type":"quantitative","title":null},
  "y":{"field":"v2","type":"quantitative","title":null}}},
{"data":{"name":"arr"},"transform":[{"filter":"datum.k == 3"}],"mark":{"type":"point","shape":"M0,0L-0.7,2L0.7,2Z","filled":true,"color":"#ff3c3c","opacity":1,"size":64,"angle":45},
 "encoding":{"x":{"field":"i2","type":"quantitative","title":null},
  "y":{"field":"v2","type":"quantitative","title":null}}},
{"data":{"name":"tags"},"mark":{"type":"point","shape":"M-1,-0.45L1,-0.45L1,0.45L-1,0.45Z","filled":true,"opacity":1,"size":484},
 "encoding":{"x":{"datum":414.3,"type":"quantitative"},
  "y":{"field":"v","type":"quantitative","title":null},
  "color":{"field":"kind","type":"nominal","scale":{"domain":["level","price"],"range":["#3c9d3c","#000000"]},"legend":null}}},
{"data":{"name":"tags"},"mark":{"type":"text","color":"#ffffff","font":"Liberation Sans","fontSize":5.8,"align":"center","baseline":"middle"},
 "encoding":{"x":{"datum":414.3,"type":"quantitative"},
  "y":{"field":"v","type":"quantitative","title":null},"text":{"field":"t"}}}
]
}
